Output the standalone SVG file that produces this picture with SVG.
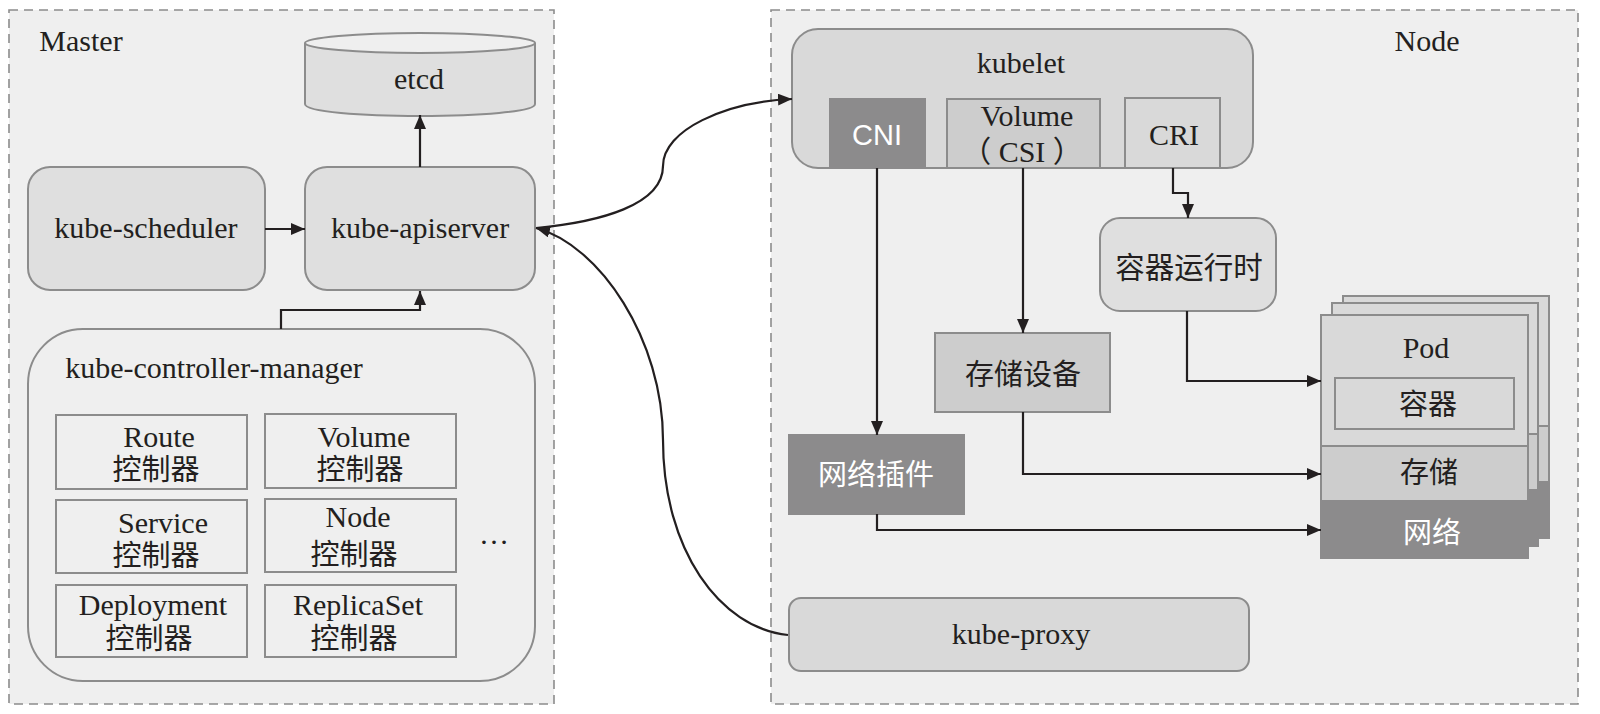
<svg xmlns="http://www.w3.org/2000/svg" width="1600" height="714" viewBox="0 0 1600 714">
<style>
text{font-family:"Liberation Serif","Noto Sans CJK SC",serif;font-size:30px;fill:#231f20;text-anchor:middle}
.cj{font-size:29px}
.w{fill:#fff}.a{font-family:"Liberation Sans","Noto Sans CJK SC",sans-serif}
.s{stroke:#8c8c8c;stroke-width:2}
.zone{fill:#efefef;stroke:#8c8c8c;stroke-width:1.6;stroke-dasharray:9 6}
.l{fill:#dfdfdf}.m{fill:#d9d9d9}.d{fill:#cdcdcd}.k{fill:#8c8b8c;stroke:#8c8b8c;stroke-width:2}.p{fill:#efefef}.n{fill:none}
.c{fill:none;stroke:#231f20;stroke-width:2.2;marker-end:url(#h)}
.b{fill:none;stroke:#231f20;stroke-width:2.2}
</style>
<defs><marker id="h" markerUnits="userSpaceOnUse" markerWidth="15" markerHeight="12" refX="14" refY="6" orient="auto"><path d="M0 0L14 6L0 12Z" fill="#231f20"/></marker></defs>
<rect width="1600" height="714" fill="#fff"/>
<g id="master"><rect class="zone" x="9" y="10" width="545" height="694"/><text x="81" y="51">Master</text></g>
<g id="node"><rect class="zone" x="771" y="10" width="807" height="694"/><text x="1427" y="51">Node</text></g>
<g id="etcd"><path class="s l" d="M305 44V104C305 120 535 120 535 104V44Z"/><ellipse class="s" cx="420" cy="43" rx="115" ry="10" fill="#efefef"/><text x="419" y="89">etcd</text></g>
<g id="kube-scheduler"><rect class="s l" x="28" y="167" width="237" height="123" rx="22"/><text x="146" y="238">kube-scheduler</text></g>
<g id="kube-apiserver"><rect class="s l" x="305" y="167" width="230" height="123" rx="22"/><text x="420" y="238">kube-apiserver</text></g>
<g id="kube-controller-manager"><rect class="s p" x="28" y="329" width="507" height="352" rx="55"/><text x="214" y="378">kube-controller-manager</text></g>
<g id="route"><rect class="s n" x="56" y="415" width="191" height="74"/><text x="159" y="447">Route</text><text class="cj" x="156" y="480">控制器</text></g>
<g id="volume-ctrl"><rect class="s n" x="265" y="414" width="191" height="74"/><text x="364" y="447">Volume</text><text class="cj" x="360" y="480">控制器</text></g>
<g id="service"><rect class="s n" x="56" y="500" width="191" height="73"/><text x="163" y="533">Service</text><text class="cj" x="156" y="566">控制器</text></g>
<g id="node-ctrl"><rect class="s n" x="265" y="499" width="191" height="73"/><text x="358" y="527">Node</text><text class="cj" x="354" y="565">控制器</text></g>
<g id="deployment"><rect class="s n" x="56" y="585" width="191" height="72"/><text x="153" y="615">Deployment</text><text class="cj" x="149" y="649">控制器</text></g>
<g id="replicaset"><rect class="s n" x="265" y="585" width="191" height="72"/><text x="358" y="615">ReplicaSet</text><text class="cj" x="354" y="649">控制器</text></g>
<g id="more"><text x="494" y="544">…</text></g>
<g id="kubelet"><rect class="s m" x="792" y="29" width="461" height="139" rx="26"/><text x="1021" y="73">kubelet</text></g>
<g id="cni"><rect class="k" x="830" y="99" width="95" height="69"/><text class="w a" x="877" y="145" style="font-size:29px">CNI</text></g>
<g id="volume-csi"><rect class="s d" x="947" y="99" width="153" height="69"/><text x="1027" y="126">Volume</text><text x="1022" y="162">（ CSI ）</text></g>
<g id="cri"><rect class="s m" x="1125" y="98" width="95" height="70"/><text x="1174" y="145">CRI</text></g>
<g id="runtime"><rect class="s l" x="1100" y="218" width="176" height="93" rx="20"/><text x="1189" y="278" style="font-size:29.5px">容器运行时</text></g>
<g id="storage-device"><rect class="s d" x="935" y="333" width="175" height="79"/><text class="cj" x="1023" y="385">存储设备</text></g>
<g id="network-plugin"><rect class="k" x="789" y="435" width="175" height="79"/><text class="w cj" x="876" y="485">网络插件</text></g>
<g id="kube-proxy"><rect class="s m" x="789" y="598" width="460" height="73" rx="12"/><text x="1021" y="644">kube-proxy</text></g>
<g id="pod-stack">
<rect class="s m" x="1343" y="296" width="206" height="130"/><rect class="s d" x="1343" y="426" width="206" height="56"/><rect class="k" x="1343" y="482" width="206" height="56"/>
<rect class="s m" x="1332" y="303" width="206" height="131"/><rect class="s d" x="1332" y="434" width="206" height="56"/><rect class="k" x="1332" y="490" width="206" height="56"/>
</g>
<g id="pod"><rect class="s m" x="1321" y="315" width="207" height="131"/><text x="1426" y="358">Pod</text><rect class="s n" x="1335" y="378" width="179" height="51"/><text class="cj" x="1428" y="415">容器</text><rect class="s d" x="1321" y="446" width="207" height="55"/><text class="cj" x="1429" y="483">存储</text><rect class="k" x="1321" y="501" width="207" height="57"/><text class="w cj" x="1432" y="543">网络</text></g>
<g id="connectors">
<path class="c" d="M265 229H305"/>
<path class="c" d="M420 167V115"/>
<path class="c" d="M281 329V310H420V291"/>
<path class="c" d="M536 228C600 222 663 205 663 166C663 130 725 102 792 99"/>
<path class="c" d="M788 635C720 628 663 550 663 440C663 340 600 245 536 228"/>
<path class="c" d="M877 168V435"/>
<path class="c" d="M1023 168V333"/>
<path class="c" d="M1173 168V193H1188V218"/>
<path class="c" d="M1187 311V381H1321"/>
<path class="c" d="M1023 412V474H1321"/>
<path class="c" d="M877 514V530H1321"/>
</g>
</svg>
